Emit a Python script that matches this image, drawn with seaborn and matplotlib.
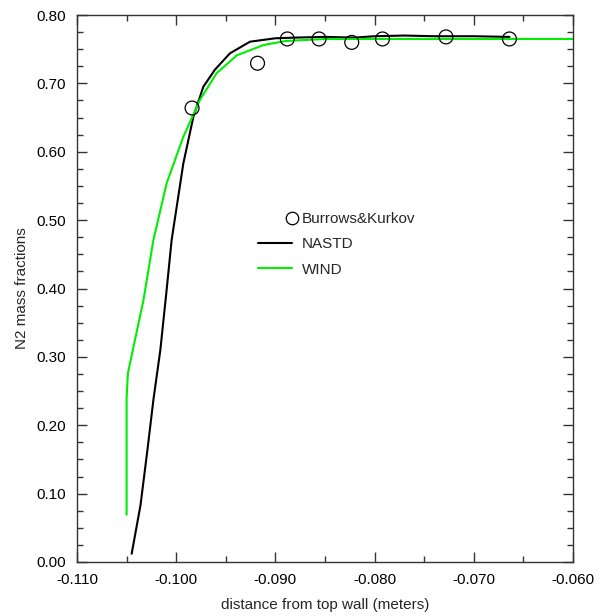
import matplotlib
matplotlib.use("Agg")
import matplotlib.pyplot as plt
import seaborn as sns
import pandas as pd
from matplotlib.legend_handler import HandlerLine2D
from matplotlib.lines import Line2D
from matplotlib.ticker import MultipleLocator, FormatStrFormatter

# ---- data ----
exp_x = [-0.0984, -0.0918, -0.0888, -0.0856, -0.0823, -0.0792, -0.0728, -0.0664]
exp_y = [0.664, 0.7295, 0.765, 0.765, 0.760, 0.765, 0.768, 0.765]

nastd_x = [-0.10449, -0.1036, -0.1029, -0.1023, -0.1016, -0.1010, -0.10046,
           -0.09928, -0.09827, -0.09727, -0.0961, -0.09458, -0.09256,
           -0.0900, -0.0880, -0.0850, -0.0820, -0.0800, -0.0770, -0.0740, -0.0700, -0.0664]
nastd_y = [0.012, 0.083, 0.164, 0.237, 0.310, 0.393, 0.471,
           0.583, 0.651, 0.695, 0.720, 0.744, 0.761,
           0.766, 0.767, 0.768, 0.767, 0.769, 0.770, 0.769, 0.769, 0.768]

wind_x = [-0.1050, -0.1050, -0.10487, -0.1043, -0.1033, -0.1023, -0.10096,
          -0.09928, -0.0976, -0.09592, -0.0939, -0.09122, -0.0890, -0.0850, -0.0600]
wind_y = [0.069, 0.240, 0.276, 0.315, 0.383, 0.471, 0.554,
          0.622, 0.676, 0.715, 0.741, 0.756, 0.762, 0.765, 0.765]

labels = ["Burrows&Kurkov", "NASTD", "WIND"]
xlabel = "distance from top wall (meters)"
ylabel = "N2 mass fractions"

# ---- style ----
sns.set_style("ticks")
plt.rcParams['font.family'] = ['Liberation Sans', 'DejaVu Sans']
FS = 11

fig = plt.figure(figsize=(6.05, 6.16), dpi=100)
ax = fig.add_axes([0.1273, 0.0877, 0.8197, 0.8879])

df_n = pd.DataFrame({"x": nastd_x, "y": nastd_y})
df_w = pd.DataFrame({"x": wind_x, "y": wind_y})
df_e = pd.DataFrame({"x": exp_x, "y": exp_y})

sns.lineplot(data=df_n, x="x", y="y", ax=ax, sort=False, estimator=None,
             color="black", linewidth=1.5)
sns.lineplot(data=df_w, x="x", y="y", ax=ax, sort=False, estimator=None,
             color="#00ee00", linewidth=1.5)
sns.scatterplot(data=df_e, x="x", y="y", ax=ax, marker="o", s=100,
                facecolors="none", edgecolor="black", linewidth=0.9, zorder=5)

ax.set_xlim(-0.110, -0.060)
ax.set_ylim(0.0, 0.80)
ax.xaxis.set_major_locator(MultipleLocator(0.010))
ax.xaxis.set_minor_locator(MultipleLocator(0.005))
ax.yaxis.set_major_locator(MultipleLocator(0.10))
ax.yaxis.set_minor_locator(MultipleLocator(0.025))
ax.xaxis.set_major_formatter(FormatStrFormatter("%.3f"))
ax.yaxis.set_major_formatter(FormatStrFormatter("%.2f"))
ax.tick_params(which="both", direction="in", top=True, right=True,
               colors="#333333", labelcolor="black", labelsize=FS, width=1.0)
ax.tick_params(which="major", length=7)
ax.tick_params(which="minor", length=4)
ax.tick_params(axis="x", which="major", pad=8)
ax.tick_params(axis="y", which="major", pad=8)
for sp in ax.spines.values():
    sp.set_visible(True)
    sp.set_color("#333333")
    sp.set_linewidth(1.0)

ax.set_xlabel(xlabel, fontsize=FS, labelpad=7.5)
ax.set_ylabel(ylabel, fontsize=FS, labelpad=5.5)


class RightMarkerHandler(HandlerLine2D):
    def get_xdata(self, legend, xdescent, ydescent, width, height, fontsize):
        xr = -xdescent + width
        return [xr], [xr]


h_exp = Line2D([], [], linestyle="none", marker="o", markersize=9,
               markerfacecolor="none", markeredgecolor="black", markeredgewidth=0.9)
h_n = Line2D([], [], color="black", linewidth=1.5)
h_w = Line2D([], [], color="#00ee00", linewidth=1.5)
ax.legend([h_exp, h_n, h_w], labels, loc="upper left",
          bbox_to_anchor=(0.365, 0.6395), frameon=False, fontsize=FS,
          handlelength=2.25, handletextpad=0.6, labelspacing=0.73,
          borderpad=0, borderaxespad=0,
          handler_map={h_exp: RightMarkerHandler(numpoints=2)})

fig.savefig("out.png", dpi=100, facecolor="white")
